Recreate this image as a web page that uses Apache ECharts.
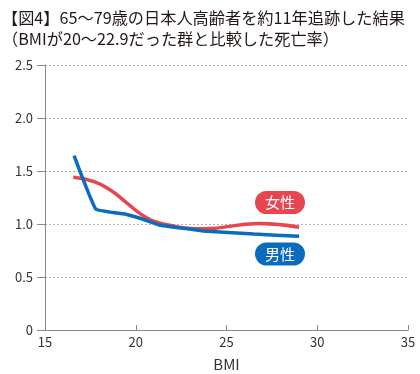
<!DOCTYPE html>
<html><head><meta charset="utf-8">
<script src="https://cdn.jsdelivr.net/npm/echarts@6/dist/echarts.min.js"></script>
<style>html,body{margin:0;padding:0;background:#fff}#c{width:420px;height:374px}</style>
</head><body><div id="c"></div>
<script>
const titleLines = ["【図4】65～79歳の日本人高齢者を約11年追跡した結果", "（BMIが20～22.9だった群と比較した死亡率）"];
const xTicks = [15, 20, 25, 30, 35];
const yTicks = [0, 0.5, 1.0, 1.5, 2.0, 2.5];
const femaleName = "女性";
const maleName = "男性";
const femaleBMI = [16.56, 17.7, 18.6, 19.5, 20.4, 21.3, 23.7, 26.8, 29.0];
const femaleRate = [1.44, 1.40, 1.32, 1.20, 1.08, 1.01, 0.955, 1.005, 0.97];
const maleBMI = [16.6, 17.8, 19.5, 20.4, 21.3, 23.7, 26.5, 29.0];
const maleRate = [1.645, 1.14, 1.09, 1.045, 0.99, 0.935, 0.905, 0.885];
const xName = "BMI";

const font = '"Noto Sans CJK JP","Noto Sans",sans-serif';
const chart = echarts.init(document.getElementById('c'));
chart.setOption({
  animation: false,
  title: {
    text: titleLines.join('\n'), left: -3, top: 2,
    textStyle: {fontFamily: font, fontSize: 16.2, fontWeight: 'normal', color: '#231815', lineHeight: 21}
  },
  grid: {left: 45, right: 12, top: 65, bottom: 44, containLabel: false, outerBoundsMode: 'none'},
  xAxis: {
    type: 'value', min: 15, max: 35, interval: 5,
    name: xName, nameLocation: 'middle', nameGap: 27,
    nameTextStyle: {fontFamily: font, fontSize: 15, color: '#333'},
    axisLine: {lineStyle: {color: '#8a8a8a', width: 1}},
    axisTick: {show: true, inside: true, length: 5, lineStyle: {color: '#8a8a8a'}},
    axisLabel: {fontFamily: font, fontSize: 13, color: '#333', margin: 6,
      formatter: v => xTicks.includes(v) ? String(v) : ''},
    splitLine: {show: false}
  },
  yAxis: {
    type: 'value', min: 0, max: 2.5, interval: 0.5,
    axisLine: {show: true, lineStyle: {color: '#8a8a8a', width: 1}},
    axisTick: {show: true, length: 8, lineStyle: {color: '#8a8a8a'}},
    axisLabel: {fontFamily: font, fontSize: 13, color: '#333', margin: 12,
      formatter: v => { const i = yTicks.indexOf(v); return i < 0 ? '' : (v === 0 ? '0' : v.toFixed(1)); }},
    splitLine: {show: true, lineStyle: {color: '#b0b0b0', type: [2, 2], width: 1}}
  },
  series: [
    {name: femaleName, type: 'line', smooth: 0.5, symbol: 'none',
     lineStyle: {color: '#e8464f', width: 3.5},
     data: femaleBMI.map((x, i) => [x, femaleRate[i]])},
    {name: maleName, type: 'line', smooth: 0.08, symbol: 'none',
     lineStyle: {color: '#0b6cbf', width: 3.5},
     data: maleBMI.map((x, i) => [x, maleRate[i]])}
  ],
  graphic: [
    {type: 'rect', shape: {x: 255, y: 191, width: 50, height: 23, r: 11.5}, style: {fill: '#e8464f'}},
    {type: 'text', x: 280, y: 202.5, style: {text: femaleName, fill: '#fff', font: '15px ' + font, align: 'center', verticalAlign: 'middle'}},
    {type: 'rect', shape: {x: 255, y: 242.5, width: 50, height: 23, r: 11.5}, style: {fill: '#0b6cbf'}},
    {type: 'text', x: 280, y: 254, style: {text: maleName, fill: '#fff', font: '15px ' + font, align: 'center', verticalAlign: 'middle'}}
  ]
});
</script></body></html>
